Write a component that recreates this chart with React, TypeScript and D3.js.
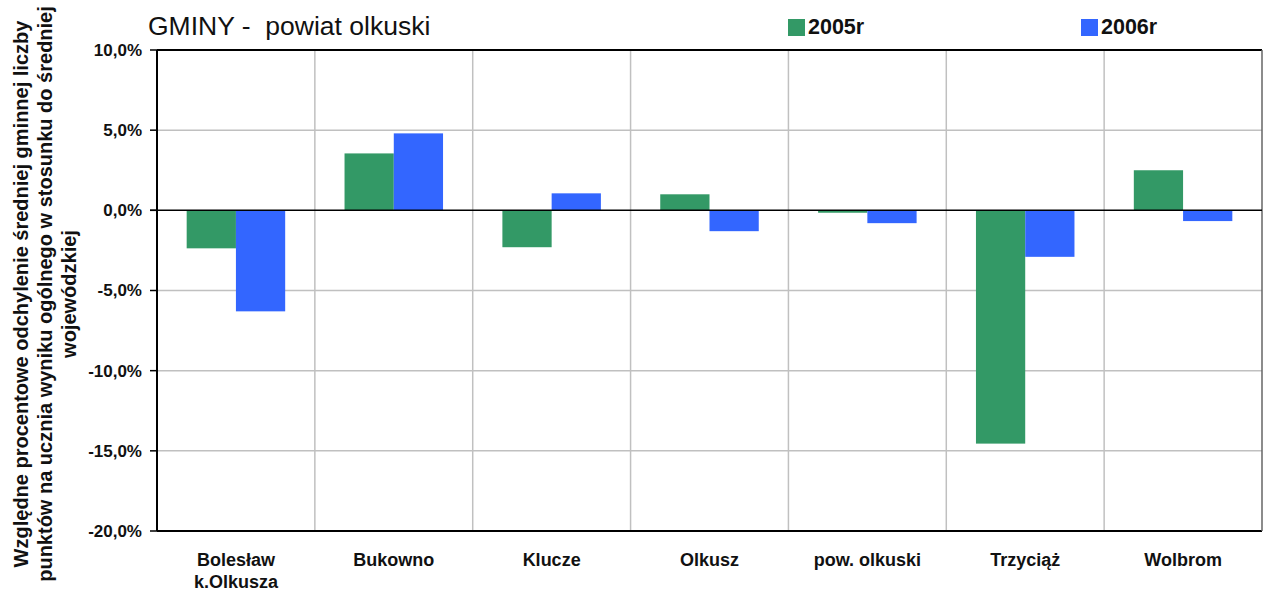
import * as d3 from "d3";

const CATEGORIES = ["Bolesław\nk.Olkusza", "Bukowno", "Klucze", "Olkusz", "pow. olkuski", "Trzyciąż", "Wolbrom"];
const SERIES_NAMES = ["2005r", "2006r"];
const VALUES_2005 = [-2.37, 3.55, -2.3, 1.0, -0.15, -14.55, 2.5];
const VALUES_2006 = [-6.3, 4.8, 1.06, -1.3, -0.8, -2.9, -0.67];
const Y_TICKS = [10, 5, 0, -5, -10, -15, -20];
const COLORS = ["#339966", "#3366FF"];

const W = 1263;
const H = 596;
const FONT = "'Liberation Sans', Arial, sans-serif";

export default function App() {
  const left = 157;
  const right = 1262;
  const top = 50;
  const bottom = 531;

  const x = d3.scaleBand<string>().domain(CATEGORIES).range([left, right]);
  const y = d3.scaleLinear().domain([-20, 10]).range([bottom, top]);
  const bw = x.bandwidth();
  const barW = bw * 0.312;
  const series = [VALUES_2005, VALUES_2006];

  const fmt = (v: number) => d3.format(".1f")(v).replace(".", ",").replace("−", "-") + "%";

  return (
    <svg
      width={W}
      height={H}
      style={{ position: "absolute", left: 0, top: 0, fontFamily: FONT }}
    >
      <rect width={W} height={H} fill="#fff" />
      {/* grid */}
      {Y_TICKS.filter((t) => t !== 0 && t !== 10 && t !== -20).map((t) => (
        <line key={t} x1={left} x2={right} y1={y(t)} y2={y(t)} stroke="#c0c0c0" strokeWidth={1.5} />
      ))}
      {CATEGORIES.slice(1).map((c) => (
        <line key={c} x1={x(c)} x2={x(c)} y1={top} y2={bottom} stroke="#c0c0c0" strokeWidth={1.5} />
      ))}
      {/* bars */}
      {series.map((vals, si) =>
        vals.map((v, i) => {
          const cx = (x(CATEGORIES[i]) ?? 0) + bw / 2;
          const x0 = cx - barW + si * barW;
          return (
            <rect
              key={`${si}-${i}`}
              x={x0}
              y={Math.min(y(v), y(0))}
              width={barW}
              height={Math.abs(y(v) - y(0))}
              fill={COLORS[si]}
            />
          );
        })
      )}
      {/* frame */}
      <line x1={left} x2={right} y1={top} y2={top} stroke="#000" strokeWidth={2} />
      <line x1={left} x2={right} y1={bottom} y2={bottom} stroke="#000" strokeWidth={2} />
      <line x1={right} x2={right} y1={top} y2={bottom} stroke="#666" strokeWidth={1.5} />
      <line x1={left - 7} x2={right} y1={y(0)} y2={y(0)} stroke="#000" strokeWidth={1.5} />
      <line x1={left} x2={left} y1={top} y2={bottom} stroke="#000" strokeWidth={2} />
      {/* y ticks */}
      {Y_TICKS.map((t) => (
        <g key={t}>
          <line x1={left - 7} x2={left} y1={y(t)} y2={y(t)} stroke="#000" strokeWidth={1.5} />
          <text
            x={left - 15}
            y={y(t)}
            dy="0.35em"
            textAnchor="end"
            fontSize={17}
            fontWeight="bold"
            fill="#111"
          >
            {fmt(t)}
          </text>
        </g>
      ))}
      {/* x labels */}
      {CATEGORIES.map((c) => {
        const cx = (x(c) ?? 0) + bw / 2;
        return (
          <text key={c} x={cx} y={566} textAnchor="middle" fontSize={18} fontWeight="bold" fill="#111">
            {c.split("\n").map((line, li) => (
              <tspan key={li} x={cx} dy={li === 0 ? 0 : 22}>
                {line}
              </tspan>
            ))}
          </text>
        );
      })}
      {/* y title */}
      <text
        transform="translate(28,294) rotate(-90)"
        textAnchor="middle"
        fontSize={20}
        fontWeight="bold"
        fill="#111"
      >
        <tspan x={0} dy={0}>Względne procentowe odchylenie średniej gminnej liczby</tspan>
        <tspan x={0} dy={24}>punktów na ucznia wyniku ogólnego w stosunku do średniej</tspan>
        <tspan x={0} dy={24}>wojewódzkiej</tspan>
      </text>
      {/* title */}
      <text x={148} y={35} fontSize={26.5} fill="#111">
        GMINY -{"\u00a0\u00a0"}powiat olkuski
      </text>
      {/* legend */}
      {SERIES_NAMES.map((s, i) => {
        const lx = [788, 1081][i];
        return (
          <g key={s}>
            <rect x={lx} y={19} width={17} height={17} fill={COLORS[i]} />
            <text x={lx + 20} y={34} fontSize={21.5} fontWeight="bold" fill="#111">
              {s}
            </text>
          </g>
        );
      })}
    </svg>
  );
}
